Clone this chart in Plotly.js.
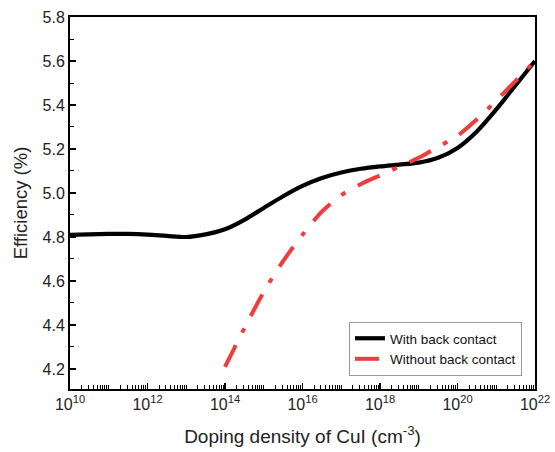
<!DOCTYPE html>
<html>
<head>
<meta charset="utf-8">
<script src="https://cdn.plot.ly/plotly-3.0.1.min.js"></script>
<style>html,body{margin:0;padding:0;background:#fff;}#chart{width:555px;height:452px;}</style>
</head>
<body>
<div id="chart"></div>
<script>
// log10 of doping density (cm^-3)
const blackLog = [10,10.5,11,11.5,12,12.5,13,13.5,14,14.5,15,15.5,16,16.5,17,17.5,18,18.5,19,19.5,20,20.5,21,21.5,22];
const blackEff = [4.810,4.812,4.814,4.814,4.811,4.805,4.800,4.812,4.835,4.878,4.932,4.985,5.032,5.068,5.093,5.110,5.121,5.129,5.138,5.160,5.205,5.280,5.380,5.490,5.600];
const redLog = [14,14.5,15,15.5,16,16.5,17,17.5,18,18.5,19,19.5,20,20.5,21,21.5,22];
const redEff = [4.21,4.385,4.55,4.69,4.81,4.915,4.99,5.04,5.08,5.12,5.16,5.21,5.26,5.335,5.42,5.51,5.60];
const seriesNames = ["With back contact","Without back contact"];
const xTickExps = [10,12,14,16,18,20,22];
const yTicks = [4.2,4.4,4.6,4.8,5.0,5.2,5.4,5.6,5.8];

const toX = a => a.map(v => Math.pow(10, v));
const minorX = [];
for (let e = 10; e < 22; e++) for (let d = 2; d <= 9; d++) minorX.push(d * Math.pow(10, e));
for (let e = 11; e < 22; e += 2) minorX.push(Math.pow(10, e));

const traces = [
  {x: toX(blackLog), y: blackEff, name: seriesNames[0], mode: "lines",
   line: {color: "#000000", width: 4.2, shape: "spline", smoothing: 0.8}},
  {x: toX(redLog), y: redEff, name: seriesNames[1], mode: "lines",
   line: {color: "#f03c3c", width: 4, shape: "spline", smoothing: 0.8, dash: "24px,14px,5px,14px"}}
];

const layout = {
  width: 555, height: 452,
  margin: {l: 70, r: 20, t: 17, b: 63},
  paper_bgcolor: "#fff", plot_bgcolor: "#fff",
  font: {family: "Liberation Sans, Arial, sans-serif", color: "#222"},
  showlegend: true,
  legend: {x: 0.972, y: 0.035, xanchor: "right", yanchor: "bottom",
    bordercolor: "#999", borderwidth: 1, bgcolor: "#fff",
    font: {size: 13.5, color: "#111"}, tracegroupgap: 0, itemwidth: 30},
  xaxis: {
    type: "log", range: [10, 22],
    tickmode: "array", tickvals: xTickExps.map(e => Math.pow(10, e)),
    ticktext: xTickExps.map(e => "10<sup>" + e + "</sup>"),
    ticks: "inside", ticklen: 6, tickwidth: 1.5, tickcolor: "#000",
    minor: {tickmode: "array", tickvals: minorX, ticks: "inside", ticklen: 4, tickwidth: 1, tickcolor: "#000"},
    showline: true, linecolor: "#000", linewidth: 2, mirror: true,
    showgrid: false, zeroline: false,
    tickfont: {size: 16, color: "#222"},
    title: {text: "Doping density of CuI (cm<sup>-3</sup>)", font: {size: 19, color: "#222"}, standoff: 17}
  },
  yaxis: {
    range: [4.109, 5.8],
    tickmode: "array", tickvals: yTicks, ticktext: yTicks.map(v => v.toFixed(1)),
    ticks: "inside", ticklen: 6, tickwidth: 1.5, tickcolor: "#000",
    minor: {tickmode: "array", tickvals: [4.3,4.5,4.7,4.9,5.1,5.3,5.5,5.7], ticks: "inside", ticklen: 4, tickwidth: 1, tickcolor: "#000"},
    showline: true, linecolor: "#000", linewidth: 2, mirror: true,
    showgrid: false, zeroline: false,
    tickfont: {size: 16, color: "#222"},
    title: {text: "Efficiency (%)", font: {size: 18.5, color: "#222"}, standoff: 10}
  }
};

Plotly.newPlot("chart", traces, layout, {displayModeBar: false, staticPlot: true});
</script>
</body>
</html>
